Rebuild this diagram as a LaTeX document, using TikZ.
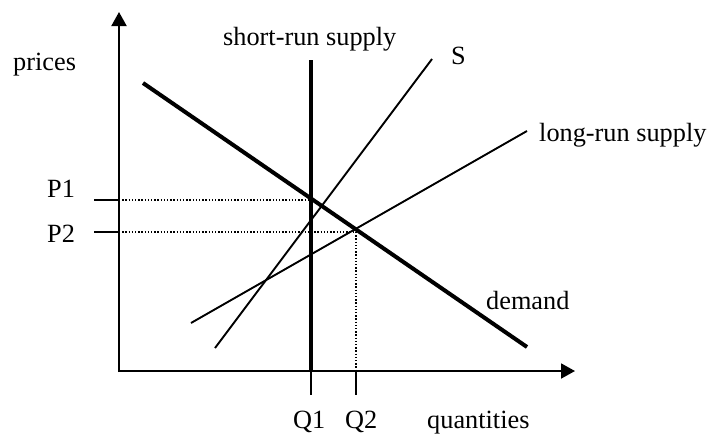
\documentclass[tikz,border=0pt]{standalone}
\usepackage{fontspec}
\setmainfont{Liberation Serif}
\usetikzlibrary{arrows.meta}
\begin{document}
\begin{tikzpicture}[x=1pt,y=-1pt,
  axisline/.style={line width=1.9pt,-{Triangle[length=14pt,width=15pt]}},
  plainline/.style={line width=1.9pt},
  boldline/.style={line width=4pt},
  dotline/.style={line width=1.4pt,dash pattern=on 1.3pt off 1.9pt},
  lbl/.style={inner sep=0pt,anchor=base west,font=\fontsize{26.3}{30}\selectfont}]
\useasboundingbox (0,0) rectangle (708,434);
% axes
\coordinate (O) at (119,371);
\coordinate (ytip) at (119,12);
\coordinate (xtip) at (575,371);
\draw[axisline] (119,372) -- (ytip);
\draw[axisline] (118.1,371) -- (xtip);
% ticks
\coordinate (p1a) at (94,200);  \coordinate (p1b) at (119,200);
\coordinate (p2a) at (94,232);  \coordinate (p2b) at (119,232);
\coordinate (q1a) at (311,371); \coordinate (q1b) at (311,395);
\coordinate (q2a) at (356,371); \coordinate (q2b) at (356,395);
\draw[plainline] (p1a) -- (p1b);
\draw[plainline] (p2a) -- (p2b);
\draw[plainline] (q1a) -- (q1b);
\draw[plainline] (q2a) -- (q2b);
% dotted guides
\coordinate (e1) at (311,200);
\coordinate (e2) at (356,232);
\draw[dotline] (p1b) -- (e1);
\draw[dotline] (p2b) -- (e2);
\draw[dotline] (e2) -- (q2a);
% curves
\coordinate (sr1) at (311,60);
\draw[boldline] (sr1) -- (q1a);
\coordinate (d1) at (143,83);  \coordinate (d2) at (527,347);
\draw[boldline] (d1) -- (d2);
\coordinate (s1) at (215,348); \coordinate (s2) at (432,59);
\draw[plainline] (s1) -- (s2);
\coordinate (l1) at (191,323); \coordinate (l2) at (527,131);
\draw[plainline] (l1) -- (l2);
% labels
\node[lbl] (tprices) at (13,70) {prices};
\node[lbl] (tsr) at (223,45) {short-run supply};
\node[lbl] (ts) at (451,64) {S};
\node[lbl] (tlr) at (539,141) {long-run supply};
\node[lbl] (tdem) at (486,309) {demand};
\node[lbl] (tp1) at (47,197) {P1};
\node[lbl] (tp2) at (47,242) {P2};
\node[lbl] (tq1) at (293,428) {Q1};
\node[lbl] (tq2) at (345,428) {Q2};
\node[lbl] (tqty) at (427,428) {quantities};
\end{tikzpicture}
\end{document}
